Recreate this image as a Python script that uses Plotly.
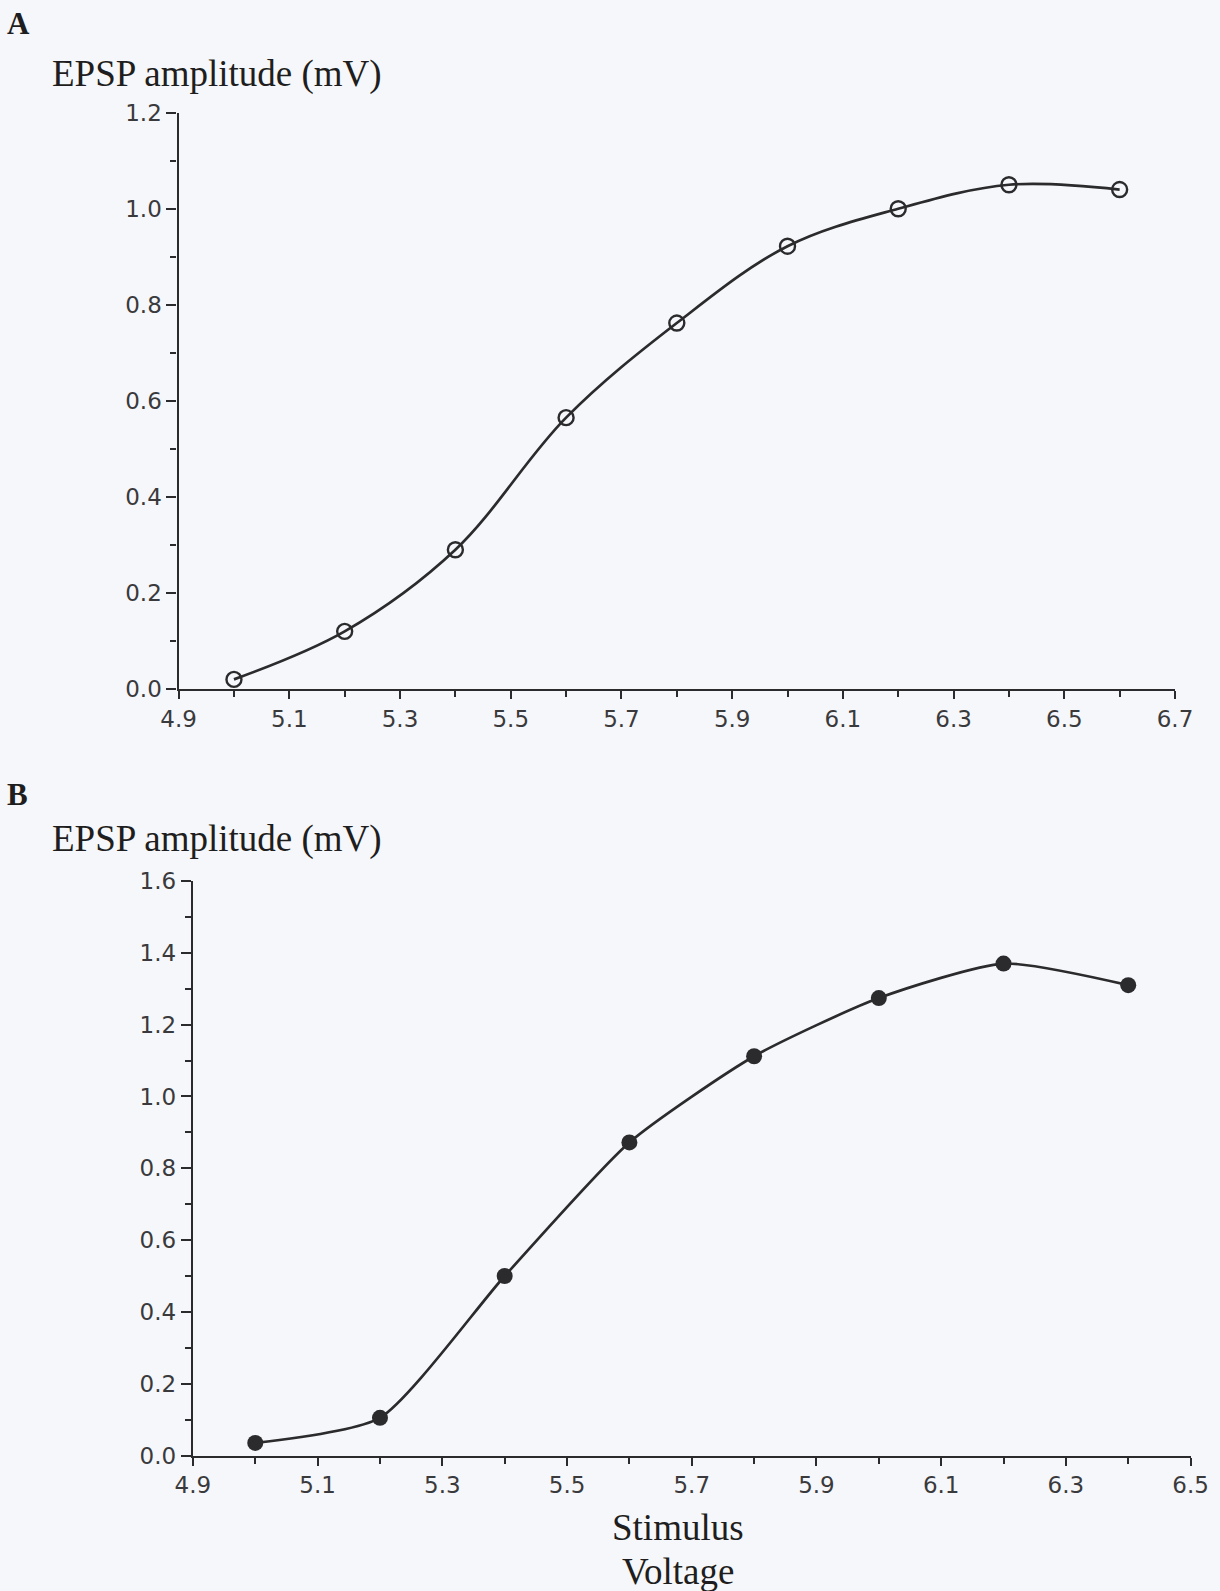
import plotly.graph_objects as go

# Panel A data
volt_a = [5.0, 5.2, 5.4, 5.6, 5.8, 6.0, 6.2, 6.4, 6.6]
epsp_a = [0.02, 0.12, 0.29, 0.565, 0.762, 0.922, 1.0, 1.05, 1.04]

# Panel B data
volt_b = [5.0, 5.2, 5.4, 5.6, 5.8, 6.0, 6.2, 6.4]
epsp_b = [0.035, 0.105, 0.50, 0.872, 1.112, 1.274, 1.37, 1.31]

W, H = 1220, 1591
BG = "#f6f7fa"
INK = "#2b2b2d"

fig = go.Figure()
fig.add_trace(go.Scatter(
    x=volt_a, y=epsp_a, mode="lines+markers", xaxis="x", yaxis="y",
    line=dict(color=INK, width=2.7, shape="spline", smoothing=1.0),
    marker=dict(symbol="circle-open", size=15, color=INK, line=dict(width=2.4, color=INK)),
    showlegend=False))
fig.add_trace(go.Scatter(
    x=volt_b, y=epsp_b, mode="lines+markers", xaxis="x2", yaxis="y2",
    line=dict(color=INK, width=2.7, shape="spline", smoothing=0.6),
    marker=dict(symbol="circle", size=16, color=INK),
    showlegend=False))

def px_x(p):
    return p / W

def px_y(p):
    return 1 - p / H

tickfont_sans = dict(family="DejaVu Sans", size=23, color="#3a3a3c")

common_axis = dict(showgrid=False, zeroline=False, showline=True, linecolor=INK, linewidth=2.4,
                   ticks="outside", tickwidth=2.2, tickcolor=INK, tickformat=".1f",
                   automargin=False, tickfont=tickfont_sans)
minor_axis = dict(ticks="outside", ticklen=6, tickwidth=2, tickcolor=INK, dtick=0.1)

fig.update_layout(
    width=W, height=H,
    margin=dict(l=0, r=0, t=0, b=0),
    paper_bgcolor=BG, plot_bgcolor=BG,
    xaxis=dict(domain=[px_x(178.6), px_x(1175)], range=[4.9, 6.7], tick0=4.9, dtick=0.2, ticklen=8,
               anchor="y", minor=dict(tick0=4.9, **minor_axis), **common_axis),
    yaxis=dict(domain=[px_y(689), px_y(112.7)], range=[0, 1.2], tick0=0, dtick=0.2, ticklen=10,
               anchor="x", minor=dict(tick0=0, **minor_axis), **common_axis),
    xaxis2=dict(domain=[px_x(192.9), px_x(1190.6)], range=[4.9, 6.5], tick0=4.9, dtick=0.2, ticklen=8,
                anchor="y2", minor=dict(tick0=4.9, **minor_axis), **common_axis),
    yaxis2=dict(domain=[px_y(1455.5), px_y(881)], range=[0, 1.6], tick0=0, dtick=0.2, ticklen=10,
                anchor="x2", minor=dict(tick0=0, **minor_axis), **common_axis),
)

serif = "Liberation Serif"
ann = [
    dict(text="<b>A</b>", x=px_x(5), y=px_y(24), xanchor="left", size=31),
    dict(text="EPSP amplitude (mV)", x=px_x(50), y=px_y(74), xanchor="left", size=37),
    dict(text="<b>B</b>", x=px_x(5), y=px_y(794), xanchor="left", size=31),
    dict(text="EPSP amplitude (mV)", x=px_x(50), y=px_y(839), xanchor="left", size=37),
    dict(text="Stimulus", x=px_x(678), y=px_y(1527), xanchor="center", size=37),
    dict(text="Voltage", x=px_x(678), y=px_y(1571), xanchor="center", size=37),
]
for a in ann:
    fig.add_annotation(text=a["text"], x=a["x"], y=a["y"], xref="paper", yref="paper",
                       xanchor=a["xanchor"], yanchor="middle", showarrow=False,
                       font=dict(family=serif, size=a["size"], color="#1e1e20"))

fig.write_html("out.html")
